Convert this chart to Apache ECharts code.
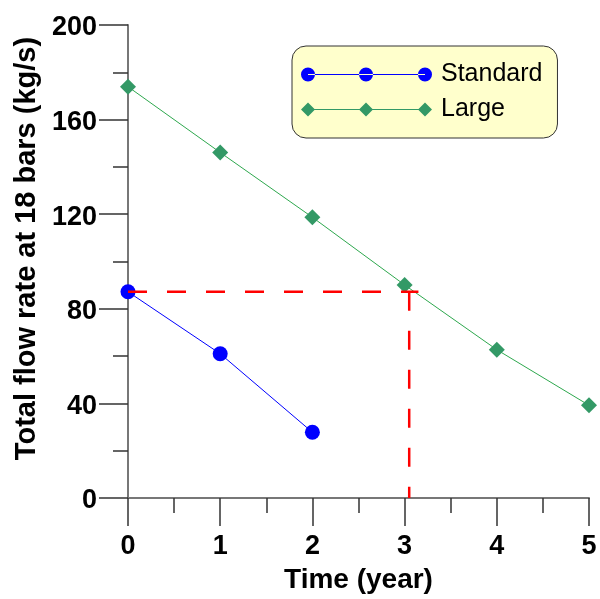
<!DOCTYPE html>
<html>
<head>
<meta charset="utf-8">
<script src="https://cdn.jsdelivr.net/npm/echarts@6/dist/echarts.min.js"></script>
<style>
  html, body { margin: 0; padding: 0; background: #ffffff; }
  #chart { width: 600px; height: 599px; }
</style>
</head>
<body>
<div id="chart"></div>
<script>
// Flow rate over time for the two unit sizes
const timeStandard = [0, 1, 2];
const flowStandard = [87.2, 61, 27.8];
const timeLarge = [0, 1, 2, 3, 4, 5];
const flowLarge = [173.9, 146.1, 118.7, 90.1, 62.7, 39.2];

// Red guide: read-off level and the time where the Large curve reaches it
const guideLevel = 87.2;
const guideLevelEnd = 3.15;
const guideTime = 3.05;

const FONT = '"Liberation Sans", Arial, Helvetica, sans-serif';

function pairs(xs, ys) {
  return xs.map((x, i) => [x, ys[i]]);
}

// Legend icons: three markers joined by a thin line
const circleIcon = 'path://' +
  'M0,7a7,7 0 1,0 14,0a7,7 0 1,0 -14,0Z' +
  'M58,7a7,7 0 1,0 14,0a7,7 0 1,0 -14,0Z' +
  'M117,7a7,7 0 1,0 14,0a7,7 0 1,0 -14,0Z' +
  'M7,6.4L124,6.4L124,7.6L7,7.6Z';
const diamondIcon = 'path://' +
  'M0,7L7,0L14,7L7,14Z' +
  'M58,7L65,0L72,7L65,14Z' +
  'M117,7L124,0L131,7L124,14Z' +
  'M7,6.4L124,6.4L124,7.6L7,7.6Z';

const chart = echarts.init(document.getElementById('chart'), null, { renderer: 'canvas' });

const axisLabelStyle = { color: '#000', fontSize: 27, fontWeight: 'bold', fontFamily: FONT };

chart.setOption({
  animation: false,
  backgroundColor: '#ffffff',
  grid: { left: 128, right: 11, top: 25, bottom: 99 },
  legend: {
    orient: 'vertical',
    left: 292,
    top: 46,
    padding: [16, 15, 16, 9],
    itemGap: 10,
    itemWidth: 131,
    itemHeight: 14,
    backgroundColor: '#ffffcc',
    borderColor: '#333333',
    borderWidth: 1,
    borderRadius: 14,
    textStyle: { color: '#000', fontSize: 25, fontFamily: FONT, padding: [0, 0, 0, 4] },
    itemStyle: { borderWidth: 0 },
    data: [
      { name: 'Standard', icon: circleIcon },
      { name: 'Large', icon: diamondIcon }
    ]
  },
  xAxis: {
    type: 'value',
    min: 0,
    max: 5,
    interval: 1,
    name: 'Time (year)',
    nameLocation: 'middle',
    nameGap: 68,
    nameTextStyle: { color: '#000', fontSize: 28, fontWeight: 'bold', fontFamily: FONT },
    axisLine: { show: true, lineStyle: { color: '#777777', width: 2 } },
    axisTick: { show: true, length: 28, lineStyle: { color: '#333333', width: 1.5 } },
    minorTick: { show: true, splitNumber: 2, length: 15, lineStyle: { color: '#333333', width: 1.5 } },
    splitLine: { show: false },
    axisLabel: Object.assign({ margin: 35 }, axisLabelStyle)
  },
  yAxis: {
    type: 'value',
    min: 0,
    max: 200,
    interval: 40,
    name: 'Total flow rate at 18 bars (kg/s)',
    nameLocation: 'middle',
    nameGap: 83,
    nameTextStyle: { color: '#000', fontSize: 29, fontWeight: 'bold', fontFamily: FONT, padding: [0, 0, 0, 26] },
    axisLine: { show: true, lineStyle: { color: '#777777', width: 2 } },
    axisTick: { show: true, length: 29, lineStyle: { color: '#333333', width: 1.5 } },
    minorTick: { show: true, splitNumber: 2, length: 15, lineStyle: { color: '#333333', width: 1.5 } },
    splitLine: { show: false },
    axisLabel: Object.assign({ margin: 31, verticalAlign: 'top', lineHeight: 6 }, axisLabelStyle)
  },
  series: [
    {
      name: 'Standard',
      type: 'line',
      data: pairs(timeStandard, flowStandard),
      symbol: 'circle',
      symbolSize: 15,
      itemStyle: { color: '#0000ff' },
      lineStyle: { color: '#0000ff', width: 1 },
      z: 2
    },
    {
      name: 'Large',
      type: 'line',
      data: pairs(timeLarge, flowLarge),
      symbol: 'diamond',
      symbolSize: 16,
      itemStyle: { color: '#339966' },
      lineStyle: { color: '#2ea84e', width: 1 },
      z: 2
    },
    {
      name: 'guide-level',
      type: 'line',
      data: [[0, guideLevel], [guideLevelEnd, guideLevel]],
      symbol: 'none',
      silent: true,
      lineStyle: { color: '#ff0000', width: 2.5, type: [19, 20] },
      z: 5
    },
    {
      name: 'guide-time',
      type: 'line',
      data: [[guideTime, guideLevel], [guideTime, 0]],
      symbol: 'none',
      silent: true,
      lineStyle: { color: '#ff0000', width: 2.5, type: [19, 20] },
      z: 5
    }
  ]
});
</script>
</body>
</html>
